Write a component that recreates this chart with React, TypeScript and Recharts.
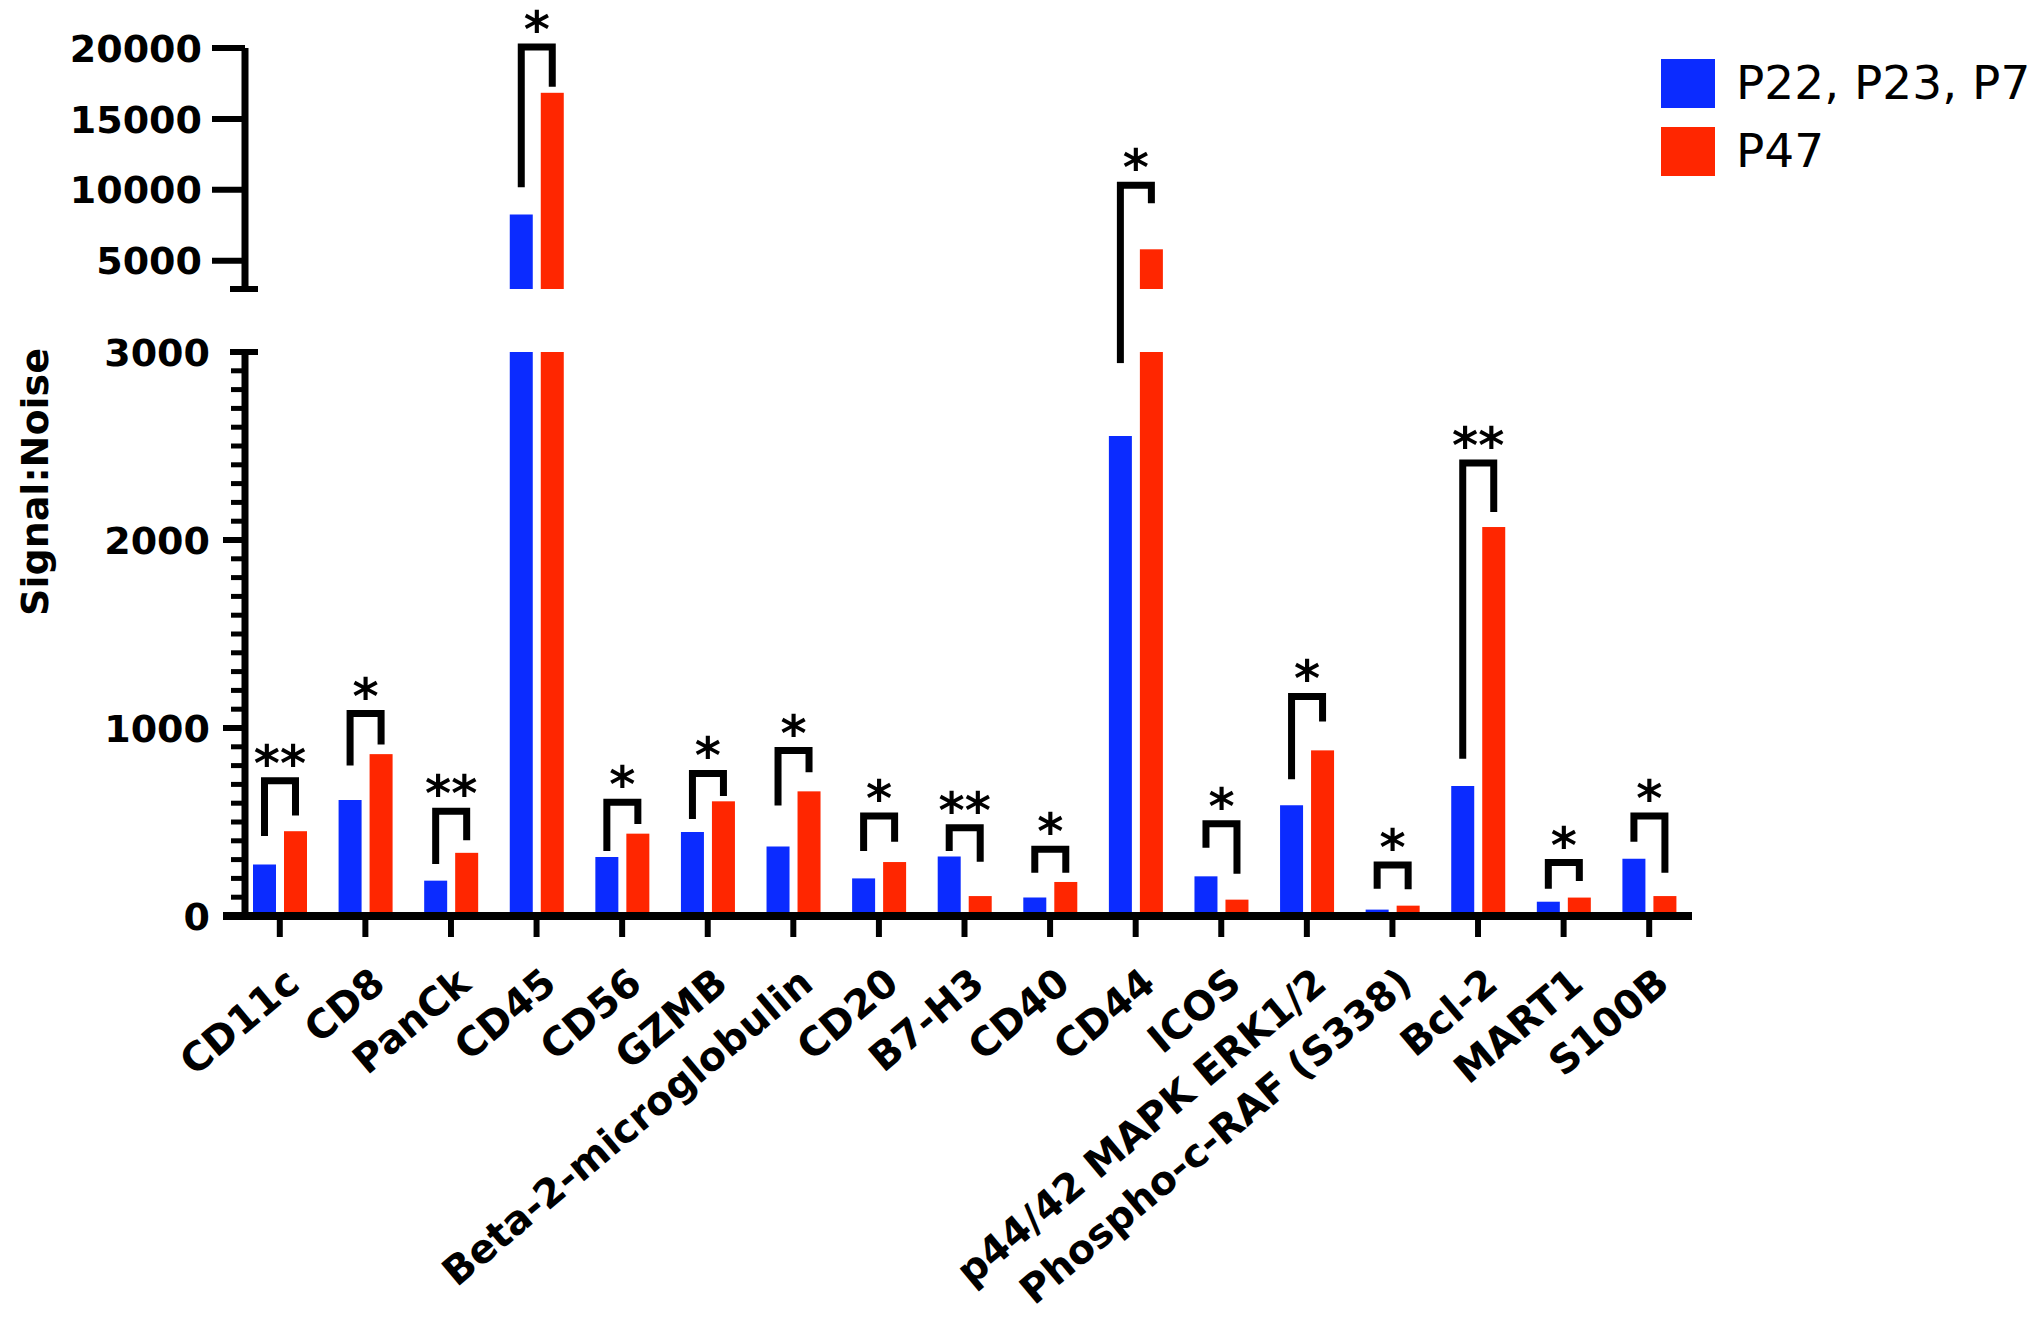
import { Bar, BarChart, XAxis, YAxis } from "recharts";

const categories = [
  "CD11c",
  "CD8",
  "PanCk",
  "CD45",
  "CD56",
  "GZMB",
  "Beta-2-microglobulin",
  "CD20",
  "B7-H3",
  "CD40",
  "CD44",
  "ICOS",
  "p44/42 MAPK ERK1/2",
  "Phospho-c-RAF (S338)",
  "Bcl-2",
  "MART1",
  "S100B",
];
const groupA = [274, 617, 188, 8260, 314, 447, 370, 200, 316, 98, 2553, 211, 589, 34, 691, 76, 305];
const groupB = [451, 861, 336, 16840, 438, 610, 663, 287, 106, 181, 5800, 87, 881, 55, 2069, 98, 106];

// significance brackets: left leg start, crossbar, right leg end (signal:noise units)
const bracketLeft = [425, 801, 277, 10180, 346, 516, 588, 346, 346, 230, 2941, 363, 727, 145, 837, 145, 395];
const bracketTop = [719, 1077, 557, 20070, 605, 758, 880, 532, 470, 355, 10320, 491, 1168, 271, 2410, 284, 532];
const bracketRight = [535, 912, 403, 17270, 490, 638, 764, 395, 289, 230, 9040, 225, 1034, 142, 2149, 186, 230];
const stars = ["**", "*", "**", "*", "*", "*", "*", "*", "**", "*", "*", "*", "*", "*", "**", "*", "*"];

const seriesNames = ["P22, P23, P7", "P47"];
const seriesColors = ["#0b2bff", "#ff2600"];

const lowerTicks = [
  0, 100, 200, 300, 400, 500, 600, 700, 800, 900, 1000, 1100, 1200, 1300, 1400, 1500, 1600, 1700,
  1800, 1900, 2000, 2100, 2200, 2300, 2400, 2500, 2600, 2700, 2800, 2900, 3000,
];
const upperTicks = [3000, 5000, 10000, 15000, 20000];
const BREAK = 3000;
const TOP = 20000;

// layout
const W = 2031;
const H = 1324;
const PLOT_LEFT = 245;
const PLOT_RIGHT = 1692;
const UPPER_TOP = 48;
const UPPER_BOTTOM = 289;
const LOWER_TOP = 352;
const LOWER_BOTTOM = 916;
const BAR_SIZE = 23;
const BAR_GAP = 8;
const FONT = "DejaVu Sans";

const lowerRows = categories.map((name, i) => ({
  name,
  i,
  a: Math.min(groupA[i], BREAK),
  b: Math.min(groupB[i], BREAK),
}));
const upperRows = categories.map((name, i) => ({
  name,
  i,
  a: groupA[i] > BREAK ? groupA[i] : null,
  b: groupB[i] > BREAK ? groupB[i] : null,
}));

const lineStyle = {
  fill: "none",
  stroke: "#000",
  strokeWidth: 7,
  strokeLinejoin: "miter" as const,
};

function Stars({ x, y, text }: { x: number; y: number; text: string }) {
  return (
    <text x={x} y={y} textAnchor="middle" fontFamily={FONT} fontWeight={700} fontSize={50}>
      {text}
    </text>
  );
}

function LowerRed(props: any) {
  const { x, y, width, height, fill, payload } = props;
  const i = payload.i;
  const base = y + height;
  const k = height / Math.min(groupB[i], BREAK);
  const toY = (v: number) => base - v * k;
  const xr = x + width / 2;
  const xl = xr - width - BAR_GAP;
  const L = bracketLeft[i];
  const T = bracketTop[i];
  const R = bracketRight[i];
  let mark = null;
  if (T <= BREAK) {
    mark = (
      <g>
        <path d={`M${xl},${toY(L)}V${toY(T)}H${xr}V${toY(R)}`} {...lineStyle} />
        <Stars x={(xl + xr) / 2} y={toY(T)} text={stars[i]} />
      </g>
    );
  } else if (L < BREAK) {
    // leg runs on through the axis break into the upper panel
    mark = <path d={`M${xl},${toY(L)}V${toY(BREAK) - (LOWER_TOP - UPPER_BOTTOM)}`} {...lineStyle} />;
  }
  return (
    <g>
      <rect x={x} y={y} width={width} height={height} fill={fill} />
      {mark}
    </g>
  );
}

function UpperRed(props: any) {
  const { x, y, width, height, fill, payload } = props;
  const i = payload.i;
  const base = y + height;
  const k = height / (groupB[i] - BREAK);
  const toY = (v: number) => base - (v - BREAK) * k;
  const xr = x + width / 2;
  const xl = xr - width - BAR_GAP;
  const L = bracketLeft[i];
  const T = bracketTop[i];
  const R = bracketRight[i];
  let mark = null;
  if (T > BREAK) {
    const start = L > BREAK ? toY(L) : base;
    mark = (
      <g>
        <path d={`M${xl},${start}V${toY(T)}H${xr}V${toY(R)}`} {...lineStyle} />
        <Stars x={(xl + xr) / 2} y={toY(T)} text={stars[i]} />
      </g>
    );
  }
  return (
    <g>
      <rect x={x} y={y} width={width} height={height} fill={fill} />
      {mark}
    </g>
  );
}

function TickLabel({ x, y, value }: { x: number; y: number; value: number }) {
  return (
    <text x={x} y={y} dy="0.36em" textAnchor="end" fontFamily={FONT} fontWeight={700} fontSize={38}>
      {value}
    </text>
  );
}

function LowerYTick({ x, y, payload }: any) {
  const v = payload.value;
  if (v === BREAK) {
    return (
      <g>
        <line x1={x - 15} x2={x + 13} y1={y} y2={y} stroke="#000" strokeWidth={6} />
        <TickLabel x={x - 35} y={y} value={v} />
      </g>
    );
  }
  if (v % 1000 === 0) {
    return (
      <g>
        <line x1={x - 22} x2={x} y1={y} y2={y} stroke="#000" strokeWidth={v === 0 ? 8 : 6} />
        <TickLabel x={x - 35} y={y} value={v} />
      </g>
    );
  }
  return <line x1={x - 14} x2={x} y1={y} y2={y} stroke="#000" strokeWidth={5} />;
}

function UpperYTick({ x, y, payload }: any) {
  const v = payload.value;
  if (v === BREAK) {
    return <line x1={x - 15} x2={x + 13} y1={y} y2={y} stroke="#000" strokeWidth={6} />;
  }
  return (
    <g>
      <line x1={x - 33} x2={x} y1={y} y2={y} stroke="#000" strokeWidth={6} />
      <TickLabel x={x - 43} y={y} value={v} />
    </g>
  );
}

function CategoryTick({ x, y, payload }: any) {
  const ax = x + 22;
  const ay = y + 71;
  return (
    <g>
      <line x1={x} x2={x} y1={y} y2={y + 21} stroke="#000" strokeWidth={6} />
      <text
        x={ax}
        y={ay}
        transform={`rotate(-40 ${ax} ${ay})`}
        textAnchor="end"
        fontFamily={FONT}
        fontWeight={700}
        fontSize={39.5}
      >
        {payload.value}
      </text>
    </g>
  );
}

export default function App() {
  const layer = { position: "absolute" as const, left: 0, top: 0 };
  return (
    <div style={{ ...layer, width: W, height: H, overflow: "hidden", background: "#fff" }}>
      <div style={layer}>
        <BarChart
          width={W}
          height={H}
          data={lowerRows}
          barSize={BAR_SIZE}
          barGap={BAR_GAP}
          margin={{ top: LOWER_TOP, right: W - PLOT_RIGHT, bottom: 0, left: 0 }}
        >
          <Bar dataKey="a" fill={seriesColors[0]} isAnimationActive={false} />
          <Bar dataKey="b" fill={seriesColors[1]} shape={LowerRed} isAnimationActive={false} />
          <XAxis
            dataKey="name"
            height={H - LOWER_BOTTOM}
            padding={{ left: -8, right: 0 }}
            interval={0}
            tickSize={0}
            tickMargin={0}
            tickLine={false}
            axisLine={{ stroke: "#000", strokeWidth: 8 }}
            tick={<CategoryTick />}
          />
          <YAxis
            type="number"
            width={PLOT_LEFT}
            domain={[0, BREAK]}
            ticks={lowerTicks}
            interval={0}
            tickSize={0}
            tickMargin={0}
            tickLine={false}
            axisLine={{ stroke: "#000", strokeWidth: 7 }}
            tick={<LowerYTick />}
          />
        </BarChart>
      </div>
      <div style={layer}>
        <BarChart
          width={W}
          height={H}
          data={upperRows}
          barSize={BAR_SIZE}
          barGap={BAR_GAP}
          margin={{ top: UPPER_TOP, right: W - PLOT_RIGHT, bottom: H - UPPER_BOTTOM, left: 0 }}
        >
          <Bar dataKey="a" fill={seriesColors[0]} isAnimationActive={false} />
          <Bar dataKey="b" fill={seriesColors[1]} shape={UpperRed} isAnimationActive={false} />
          <XAxis dataKey="name" hide padding={{ left: -8, right: 0 }} />
          <YAxis
            type="number"
            width={PLOT_LEFT}
            domain={[BREAK, TOP]}
            ticks={upperTicks}
            interval={0}
            tickSize={0}
            tickMargin={0}
            tickLine={false}
            axisLine={{ stroke: "#000", strokeWidth: 7 }}
            tick={<UpperYTick />}
          />
        </BarChart>
      </div>
      <svg style={{ ...layer, pointerEvents: "none" }} width={W} height={H}>
        <text
          x={48}
          y={(UPPER_TOP + LOWER_BOTTOM) / 2}
          transform={`rotate(-90 48 ${(UPPER_TOP + LOWER_BOTTOM) / 2})`}
          textAnchor="middle"
          fontFamily={FONT}
          fontWeight={700}
          fontSize={38}
        >
          Signal:Noise
        </text>
        {seriesNames.map((name, k) => (
          <g key={name}>
            <rect x={1661} y={59 + k * 68} width={54} height={49} fill={seriesColors[k]} />
            <text x={1736} y={99 + k * 68} fontFamily={FONT} fontSize={47}>
              {name}
            </text>
          </g>
        ))}
      </svg>
    </div>
  );
}
